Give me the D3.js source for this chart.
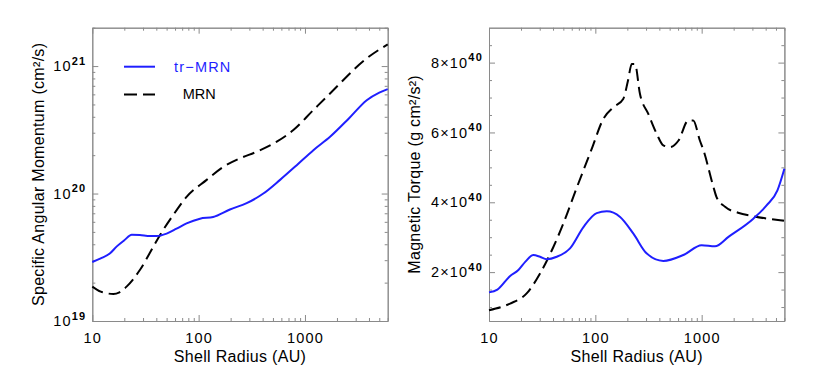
<!DOCTYPE html>
<html>
<head>
<meta charset="utf-8">
<script src="https://cdn.jsdelivr.net/npm/d3@7"></script>
<style>
  body { margin: 0; background: #fff; }
  svg { font-family: "Liberation Sans", Arial, sans-serif; }
</style>
</head>
<body>
<div id="chart"></div>
<script>
// left panel: shell radius (AU) vs specific angular momentum (cm^2/s)
var radiusJ_trMRN = [10, 12, 14.7, 17, 20, 23.5, 28, 35, 40, 50, 62, 77, 103, 137, 197, 283, 406, 583, 837, 1200, 1722, 2600, 3810, 5000, 6000];
var angMom_trMRN = [2.9e19, 3.1e19, 3.4e19, 3.85e19, 4.3e19, 4.75e19, 4.72e19, 4.64e19, 4.64e19, 4.85e19, 5.3e19, 5.83e19, 6.35e19, 6.55e19, 7.5e19, 8.4e19, 1.0e20, 1.28e20, 1.67e20, 2.19e20, 2.79e20, 3.9e20, 5.4e20, 6.2e20, 6.6e20];
var radiusJ_MRN = [10, 12, 15.8, 18, 21, 28, 37.5, 43.4, 57.8, 77, 119, 171, 245, 352, 543, 778, 1200, 1722, 3810, 6000];
var angMom_MRN = [1.86e19, 1.7e19, 1.63e19, 1.68e19, 1.86e19, 2.51e19, 3.83e19, 4.73e19, 6.8e19, 9.4e19, 1.28e20, 1.62e20, 1.89e20, 2.13e20, 2.55e20, 3.15e20, 4.52e20, 6.1e20, 1.15e21, 1.48e21];

// right panel: magnetic torque in units of 10^40 g cm^2/s^2
var radiusT_trMRN = [10, 12, 15.8, 18.9, 22, 26.1, 30.2, 34.9, 43.4, 57.8, 77.3, 103, 128, 171, 228, 305, 436, 673, 1000, 1334, 1786, 3060, 4080, 5160, 6000];
var torque_trMRN = [1.42, 1.5, 1.89, 2.06, 2.3, 2.49, 2.44, 2.37, 2.44, 2.68, 3.29, 3.69, 3.74, 3.58, 3.1, 2.53, 2.32, 2.49, 2.77, 2.74, 3.01, 3.53, 3.91, 4.34, 4.96];
var radiusT_MRN = [10, 15.8, 22.6, 30.2, 40.3, 50, 65.4, 92.5, 119, 148, 183, 203, 220, 236, 263, 315, 378, 436, 505, 606, 749, 833, 962, 1040, 1290, 1380, 1660, 2200, 3060, 6000];
var torque_MRN = [0.91, 1.1, 1.39, 1.96, 2.72, 3.39, 4.34, 5.53, 6.39, 6.72, 6.96, 7.49, 7.96, 7.96, 7.1, 6.53, 5.96, 5.63, 5.58, 5.77, 6.34, 6.34, 5.77, 5.49, 4.44, 4.15, 3.87, 3.7, 3.6, 3.47];

// tick values
var xMajor = [10, 100, 1000];
var jMajor = [1e19, 1e20, 1e21];
var torqueMajor = [2, 4, 6, 8];

var legendNames = ["tr\u2212MRN", "MRN"];

var blue = "#1f1fff";
var axisGrey = "#8a8a8a";
var font = "Liberation Sans, Arial, sans-serif";

var svg = d3.select("#chart").append("svg")
  .attr("width", 830)
  .attr("height", 380);

var plotW = 295.4, plotH = 293.3, plotTop = 27.7;

function zip(xs, ys) {
  return xs.map(function(d, i) { return {x: d, y: ys[i]}; });
}

function styleAxis(g) {
  g.attr("font-family", font).attr("font-size", 14.5);
  g.select(".domain").attr("stroke", axisGrey);
  g.selectAll(".tick line").attr("stroke", axisGrey);
  g.selectAll(".tick text").attr("fill", "#000").attr("letter-spacing", 1.2);
}

// frame with inward ticks on all four sides
function drawFrame(g, x, y, xMinor, yMajor, yMinor) {
  g.append("g")
    .attr("transform", "translate(0," + plotH + ")")
    .call(d3.axisBottom(x).tickValues(xMajor).tickSizeInner(-6).tickSizeOuter(0)
      .tickPadding(12).tickFormat(d3.format("d")))
    .call(styleAxis);
  g.append("g")
    .attr("transform", "translate(0," + plotH + ")")
    .call(d3.axisBottom(x).tickValues(xMinor).tickSizeInner(-3).tickSizeOuter(0).tickFormat(""))
    .call(styleAxis);
  g.append("g")
    .call(d3.axisTop(x).tickValues(xMajor).tickSizeInner(-6).tickSizeOuter(0).tickFormat(""))
    .call(styleAxis);
  g.append("g")
    .call(d3.axisTop(x).tickValues(xMinor).tickSizeInner(-3).tickSizeOuter(0).tickFormat(""))
    .call(styleAxis);

  var left = g.append("g")
    .call(d3.axisLeft(y).tickValues(yMajor).tickSizeInner(-6).tickSizeOuter(0).tickPadding(6))
    .call(styleAxis);
  g.append("g")
    .call(d3.axisLeft(y).tickValues(yMinor).tickSizeInner(-3).tickSizeOuter(0).tickFormat(""))
    .call(styleAxis);
  g.append("g")
    .attr("transform", "translate(" + plotW + ",0)")
    .call(d3.axisRight(y).tickValues(yMajor).tickSizeInner(-6).tickSizeOuter(0).tickFormat(""))
    .call(styleAxis);
  g.append("g")
    .attr("transform", "translate(" + plotW + ",0)")
    .call(d3.axisRight(y).tickValues(yMinor).tickSizeInner(-3).tickSizeOuter(0).tickFormat(""))
    .call(styleAxis);
  return left;
}

function drawLines(g, x, y, solid, dashed) {
  var line = d3.line()
    .x(function(d) { return x(d.x); })
    .y(function(d) { return y(d.y); })
    .curve(d3.curveMonotoneX);
  g.append("path")
    .datum(dashed)
    .attr("fill", "none")
    .attr("stroke", "#000")
    .attr("stroke-width", 2)
    .attr("stroke-dasharray", "12,6")
    .attr("d", line);
  g.append("path")
    .datum(solid)
    .attr("fill", "none")
    .attr("stroke", blue)
    .attr("stroke-width", 2)
    .attr("d", line);
}

// ---------- left panel ----------
var gL = svg.append("g").attr("transform", "translate(92.3," + plotTop + ")");
var xL = d3.scaleLog().domain([10, 6000]).range([0, plotW]);
var yL = d3.scaleLog().domain([1e19, 2e21]).range([plotH, 0]);

var xMinor = xL.ticks().filter(function(d) { return xMajor.indexOf(d) < 0; });
var jMinor = yL.ticks().filter(function(d) { return jMajor.indexOf(d) < 0; });

var leftAxis = drawFrame(gL, xL, yL, xMinor, jMajor, jMinor);
leftAxis.selectAll(".tick text").each(function(d) {
  var t = d3.select(this);
  t.text("10");
  t.append("tspan").attr("dy", -6.5).attr("font-size", 11).attr("font-weight", "bold")
    .text(Math.round(Math.log10(d)));
});

drawLines(gL, xL, yL, zip(radiusJ_trMRN, angMom_trMRN), zip(radiusJ_MRN, angMom_MRN));

// ---------- right panel ----------
var gR = svg.append("g").attr("transform", "translate(489," + plotTop + ")");
var xR = d3.scaleLog().domain([10, 6000]).range([0, plotW]);
var yR = d3.scaleLinear().domain([0.6, 9]).range([plotH, 0]);
var torqueMinor = d3.range(1, 9, 0.5).filter(function(d) { return torqueMajor.indexOf(d) < 0; });

var rightAxis = drawFrame(gR, xR, yR, xMinor, torqueMajor, torqueMinor);
rightAxis.selectAll(".tick text").each(function(d) {
  var t = d3.select(this);
  t.text(d + "\u00d710");
  t.append("tspan").attr("dy", -6.5).attr("font-size", 11).attr("font-weight", "bold").text("40");
});

drawLines(gR, xR, yR, zip(radiusT_trMRN, torque_trMRN), zip(radiusT_MRN, torque_MRN));

// ---------- titles ----------
function title(sel) {
  sel.attr("text-anchor", "middle").attr("font-size", 16).attr("letter-spacing", 0.3);
}
svg.append("text")
  .attr("x", 92.3 + plotW / 2).attr("y", 362)
  .call(title)
  .text("Shell Radius (AU)");
svg.append("text")
  .attr("x", 489 + plotW / 2).attr("y", 362)
  .call(title)
  .text("Shell Radius (AU)");
svg.append("text")
  .attr("transform", "translate(43.5," + (plotTop + plotH / 2) + ") rotate(-90)")
  .call(title)
  .text("Specific Angular Momentum (cm\u00b2/s)");
svg.append("text")
  .attr("transform", "translate(420," + (plotTop + plotH / 2) + ") rotate(-90)")
  .call(title)
  .text("Magnetic Torque (g cm\u00b2/s\u00b2)");

// ---------- legend ----------
var legend = svg.append("g");
legend.append("line")
  .attr("x1", 124).attr("x2", 155).attr("y1", 66.7).attr("y2", 66.7)
  .attr("stroke", blue).attr("stroke-width", 2);
legend.append("text")
  .attr("x", 174).attr("y", 71.7).attr("font-size", 14.5).attr("letter-spacing", 1.2).attr("fill", blue)
  .text(legendNames[0]);
legend.append("line")
  .attr("x1", 124).attr("x2", 155).attr("y1", 94.5).attr("y2", 94.5)
  .attr("stroke", "#000").attr("stroke-width", 2).attr("stroke-dasharray", "13,6");
legend.append("text")
  .attr("x", 182.7).attr("y", 99).attr("font-size", 14.5).attr("fill", "#000")
  .text(legendNames[1]);
</script>
</body>
</html>
